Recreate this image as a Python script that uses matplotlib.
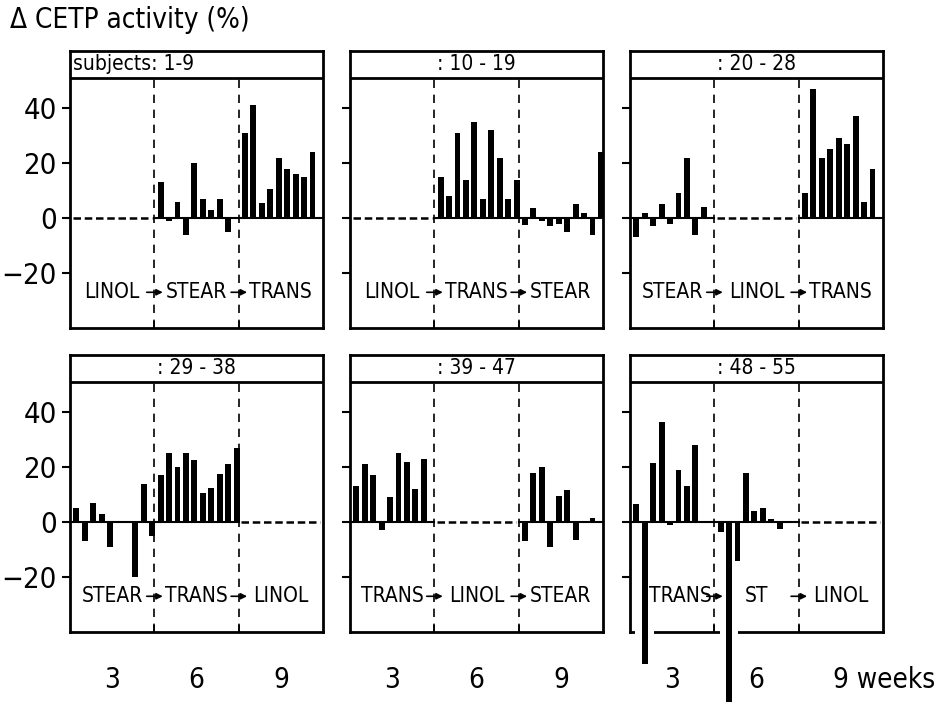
import numpy as np
import matplotlib.pyplot as plt

plt.rcParams['font.family'] = ['DejaVu Sans']
plt.rcParams['font.stretch'] = 'condensed'

# --- data: change in CETP activity (%) per subject and diet period ---
headers = ["subjects: 1-9", ": 10 - 19", ": 20 - 28", ": 29 - 38", ": 39 - 47", ": 48 - 55"]
diets = [["LINOL", "STEAR", "TRANS"],
         ["LINOL", "TRANS", "STEAR"],
         ["STEAR", "LINOL", "TRANS"],
         ["STEAR", "TRANS", "LINOL"],
         ["TRANS", "LINOL", "STEAR"],
         ["TRANS", "ST", "LINOL"]]
weeks = ["3", "6", "9"]

p1_stear = [13, -1, 6, -6, 20, 7, 3, 7, -5]
p1_trans = [31, 41, 5.5, 10.5, 22, 18, 16, 15, 24]
p2_trans = [15, 8, 31, 14, 35, 7, 32, 22, 7, 14]
p2_stear = [-2.5, 3.5, -1, -3, -2, -5, 5, 2, -6, 24]
p3_stear = [-7, 2, -3, 5, -2, 9, 22, -6, 4]
p3_trans = [9, 47, 22, 25, 29, 27, 37, 6, 18]
p4_stear = [5, -7, 7, 3, -9, 0, 0, -20, 14, -5]
p4_trans = [17, 25, 20, 25, 22.5, 10.5, 12.5, 17.5, 21, 27]
p5_trans = [13, 21, 17, -3, 9, 25, 22, 12, 23]
p5_stear = [-7, 18, 20, -9, 9.5, 11.5, -6.5, 0.5, 1.5]
p6_trans = [6.5, -51.5, 21.5, 36.5, -1, 19, 13, 28]
p6_st = [-3.5, -66, -14, 18, 4, 5, 1, -2.5]

# None = reference period (baseline)
series = [[None, p1_stear, p1_trans],
          [None, p2_trans, p2_stear],
          [p3_stear, None, p3_trans],
          [p4_stear, p4_trans, None],
          [p5_trans, None, p5_stear],
          [p6_trans, p6_st, None]]

W, H = 949, 702
fig = plt.figure(figsize=(W / 100, H / 100), dpi=100)

col_left = [70, 350, 630]
row_top = [51, 355]
row_bot = [328, 632]
pw = 253
YLO, YPLOT, YHI = -40, 51, 60.8
LABY = -27

for k in range(6):
    r, c = divmod(k, 3)
    ax = fig.add_axes([col_left[c] / W, 1 - row_bot[r] / H, pw / W, (row_bot[r] - row_top[r]) / H])
    ax.set_xlim(0, 30)
    ax.set_ylim(YLO, YHI)
    for s in ax.spines.values():
        s.set_linewidth(2)

    for seg in range(3):
        vals = series[k][seg]
        x0 = seg * 10
        if vals is None:
            ax.plot([x0 + 0.3, x0 + 9.7], [0, 0], color='k', lw=1.8, ls=(0, (3, 1.5)))
            continue
        ax.plot([x0, x0 + 10], [0, 0], color='k', lw=1.5)
        x = x0 + 0.75 + np.arange(len(vals))
        v = np.array(vals, dtype=float)
        # white gaps where long bars cross the frame
        for xi, vi in zip(x, v):
            if vi < YLO:
                ax.bar(xi, vi - (YLO + 2), bottom=YLO + 2, width=2.2, color='white',
                       zorder=3, clip_on=False)
        ax.bar(x, v, width=0.7, color='k', zorder=4, clip_on=False)

    for xb in (10, 20):
        ax.plot([xb, xb], [YLO, YPLOT], color='k', lw=1.2, ls=(0, (5, 4)))
        ax.annotate("", xy=(xb + 1.0, LABY), xytext=(xb - 0.9, LABY),
                    arrowprops=dict(arrowstyle='-|>', color='k', lw=1.2,
                                    mutation_scale=9, shrinkA=0, shrinkB=0))
    ax.axhline(YPLOT, color='k', lw=2)

    for seg in range(3):
        xl = seg * 10 + 5
        if k == 5 and seg == 0:
            xl = 6
        ax.text(xl, LABY, diets[k][seg], ha='center', va='center', fontsize=15)

    if k == 0:
        ax.text(0.4, (YPLOT + YHI) / 2, headers[k], ha='left', va='center', fontsize=15)
    else:
        ax.text(15, (YPLOT + YHI) / 2, headers[k], ha='center', va='center', fontsize=15)

    ax.set_yticks([-20, 0, 20, 40])
    ax.tick_params(axis='y', direction='out', length=6, width=1.5, labelsize=21)
    if c != 0:
        ax.set_yticklabels([])
    ax.set_xticks([])
    ax.set_xticks([10, 20], minor=True)
    ax.tick_params(axis='x', which='minor', direction='in', length=5, width=1.2)

    if r == 1:
        for seg in range(3):
            lab = weeks[seg]
            if k == 5 and seg == 2:
                ax.text(24.1, -57.5, lab + " weeks", ha='left', va='center', fontsize=20, clip_on=False)
            else:
                ax.text(seg * 10 + 5, -57.5, lab, ha='center', va='center', fontsize=20, clip_on=False)

fig.text(10 / W, 1 - 20 / H, "Δ CETP activity (%)", ha='left', va='center', fontsize=20)

fig.savefig("out.png", dpi=100)
